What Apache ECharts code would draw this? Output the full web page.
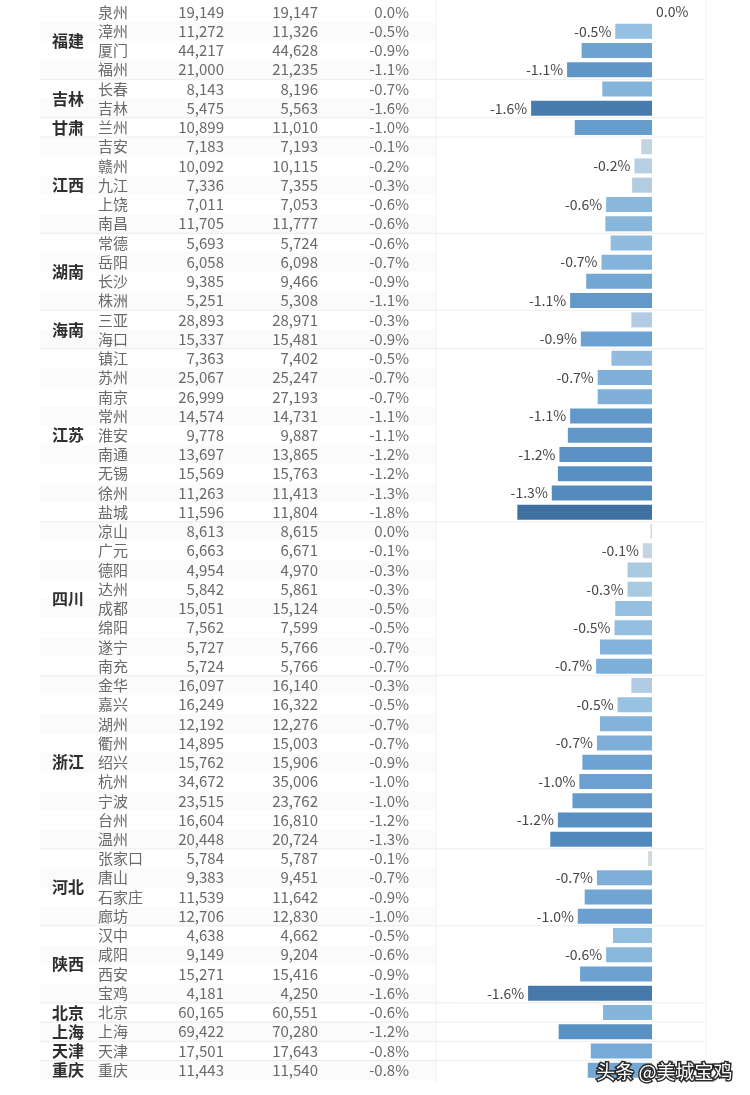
<!DOCTYPE html>
<html>
<head>
<meta charset="utf-8">
<script src="https://cdn.jsdelivr.net/npm/echarts@6/dist/echarts.min.js"></script>
<style>
html,body{margin:0;padding:0;background:#fff;}
#main{width:750px;height:1095px;}
</style>
</head>
<body>
<div id="main"></div>
<script>
// ---- data ----
const provinceNames = ['福建','吉林','甘肃','江西','湖南','海南','江苏','四川','浙江','河北','陕西','北京','上海','天津','重庆'];
const provinceSizes = [4,2,1,5,4,2,9,8,9,4,4,1,1,1,1];
const cities = ['泉州','漳州','厦门','福州','长春','吉林','兰州','吉安','赣州','九江','上饶','南昌','常德','岳阳','长沙','株洲','三亚','海口','镇江','苏州','南京','常州','淮安','南通','无锡','徐州','盐城','凉山','广元','德阳','达州','成都','绵阳','遂宁','南充','金华','嘉兴','湖州','衢州','绍兴','杭州','宁波','台州','温州','张家口','唐山','石家庄','廊坊','汉中','咸阳','西安','宝鸡','北京','上海','天津','重庆'];
const valueA = [19149,11272,44217,21000,8143,5475,10899,7183,10092,7336,7011,11705,5693,6058,9385,5251,28893,15337,7363,25067,26999,14574,9778,13697,15569,11263,11596,8613,6663,4954,5842,15051,7562,5727,5724,16097,16249,12192,14895,15762,34672,23515,16604,20448,5784,9383,11539,12706,4638,9149,15271,4181,60165,69422,17501,11443];
const valueB = [19147,11326,44628,21235,8196,5563,11010,7193,10115,7355,7053,11777,5724,6098,9466,5308,28971,15481,7402,25247,27193,14731,9887,13865,15763,11413,11804,8615,6671,4970,5861,15124,7599,5766,5766,16140,16322,12276,15003,15906,35006,23762,16810,20724,5787,9451,11642,12830,4662,9204,15416,4250,60551,70280,17643,11540];
const pctShown = [0.0,-0.5,-0.9,-1.1,-0.7,-1.6,-1.0,-0.1,-0.2,-0.3,-0.6,-0.6,-0.6,-0.7,-0.9,-1.1,-0.3,-0.9,-0.5,-0.7,-0.7,-1.1,-1.1,-1.2,-1.2,-1.3,-1.8,0.0,-0.1,-0.3,-0.3,-0.5,-0.5,-0.7,-0.7,-0.3,-0.5,-0.7,-0.7,-0.9,-1.0,-1.0,-1.2,-1.3,-0.1,-0.7,-0.9,-1.0,-0.5,-0.6,-0.9,-1.6,-0.6,-1.2,-0.8,-0.8];
const barValues = [0.01,-0.48,-0.92,-1.11,-0.65,-1.58,-1.01,-0.14,-0.23,-0.26,-0.60,-0.61,-0.54,-0.66,-0.86,-1.07,-0.27,-0.93,-0.53,-0.71,-0.71,-1.07,-1.10,-1.21,-1.23,-1.31,-1.76,-0.02,-0.12,-0.32,-0.32,-0.48,-0.49,-0.68,-0.73,-0.27,-0.45,-0.68,-0.72,-0.91,-0.95,-1.04,-1.23,-1.33,-0.05,-0.72,-0.88,-0.97,-0.51,-0.60,-0.94,-1.62,-0.64,-1.22,-0.80,-0.84];
const labelledRows = [0,1,3,5,8,10,13,15,17,19,21,23,25,28,30,32,34,36,38,40,42,45,47,49,51];

// ---- helpers ----
const FONT = '"Noto Sans CJK SC","Noto Sans",sans-serif';
function fmtNum(n){ return n.toLocaleString('en-US'); }
function fmtPct(v){ return (Math.abs(v) < 0.05 ? '0.0' : v.toFixed(1)) + '%'; }
const colorStops = [[0,'#3e6d9f'],[0.25,'#5289bd'],[0.5,'#6ea3d2'],[0.75,'#98c2e2'],[1,'#d6dce1']];
function hex2rgb(h){ return [1,3,5].map(k=>parseInt(h.substr(k,2),16)); }
function barColor(v){
  let t = (Math.min(0, Math.max(-1.8, v)) + 1.8) / 1.8;
  for (let k=1;k<colorStops.length;k++){
    if (t <= colorStops[k][0]){
      const a = colorStops[k-1], b = colorStops[k];
      const f = (t - a[0]) / (b[0] - a[0]);
      const ca = hex2rgb(a[1]), cb = hex2rgb(b[1]);
      const c = ca.map((x,j)=>Math.round(x + (cb[j]-x)*f));
      return 'rgb(' + c.join(',') + ')';
    }
  }
  return colorStops[colorStops.length-1][1];
}

const provinceData = [];
let acc = 0;
provinceSizes.forEach((s, k) => { provinceData.push([0, acc, acc + s - 1, k]); acc += s; });

const chart = echarts.init(document.getElementById('main'), null, {renderer:'canvas'});
const option = {
  animation:false,
  backgroundColor:'#ffffff',
  grid:{left:499, right:98, top:2.4, bottom:15.2},
  xAxis:{type:'value', min:-2, max:0, show:false},
  yAxis:{type:'category', data:cities, inverse:true, show:false},
  graphic:[
    {type:'line', shape:{x1:436,y1:0,x2:436,y2:1082}, style:{stroke:'#efefef', lineWidth:1}, z:0},
    {type:'line', shape:{x1:706,y1:0,x2:706,y2:1082}, style:{stroke:'#f2f2f2', lineWidth:1}, z:0},
    {type:'text', right:16, bottom:12, z:100, style:{text:'头条 @美城宝鸡', fontSize:19, fontFamily:FONT, fill:'#ffffff', stroke:'#2a2a2a', lineWidth:3}}
  ],
  series:[
    {
      type:'bar',
      barWidth:15,
      z:3,
      data: barValues.map((v,i)=>({
        value:v,
        itemStyle:{color:barColor(v)},
        label:{show: labelledRows.indexOf(i) >= 0, position: v >= 0 ? 'right' : 'left'}
      })),
      label:{formatter: p => fmtPct(pctShown[p.dataIndex]), color:'#474747', fontSize:14, fontFamily:FONT, distance:4}
    },
    {
      type:'custom',
      clip:false,
      z:1,
      encode:{x:0, y:1},
      data: cities.map((c,i)=>[0,i]),
      renderItem:function(params, api){
        const i = api.value(1);
        const y = api.coord([0,i])[1];
        const h = api.size([0,1])[1];
        const children = [];
        if (i % 2 === 1){
          children.push({type:'rect', shape:{x:40, y:y-h/2, width:395, height:h}, style:{fill:'#fbfbfb'}});
        }
        const base = {fill:'#6a6a6a', fontSize:15, fontFamily:FONT, verticalAlign:'middle'};
        children.push({type:'text', x:98, y:y, style:Object.assign({text:cities[i], align:'left'}, base)});
        children.push({type:'text', x:224, y:y, style:Object.assign({text:fmtNum(valueA[i]), align:'right'}, base)});
        children.push({type:'text', x:318, y:y, style:Object.assign({text:fmtNum(valueB[i]), align:'right'}, base)});
        children.push({type:'text', x:409, y:y, style:Object.assign({text:fmtPct(pctShown[i]), align:'right'}, base)});
        return {type:'group', children:children};
      }
    },
    {
      type:'custom',
      clip:false,
      z:2,
      encode:{x:0, y:1},
      data: provinceData,
      renderItem:function(params, api){
        const s = api.value(1), e = api.value(2);
        const ys = api.coord([0,s])[1], ye = api.coord([0,e])[1];
        const h = api.size([0,1])[1];
        const children = [{
          type:'text', x:68, y:(ys+ye)/2,
          style:{text:provinceNames[params.dataIndex], align:'center', verticalAlign:'middle', fill:'#2e2e2e', fontSize:16, fontWeight:'bold', fontFamily:FONT}
        }];
        if (params.dataIndex < provinceNames.length - 1){
          children.push({type:'line', shape:{x1:40, y1:ye+h/2, x2:705, y2:ye+h/2}, style:{stroke:'#ececec', lineWidth:1}});
        }
        return {type:'group', children:children};
      }
    }
  ]
};
chart.setOption(option);
</script>
</body>
</html>
